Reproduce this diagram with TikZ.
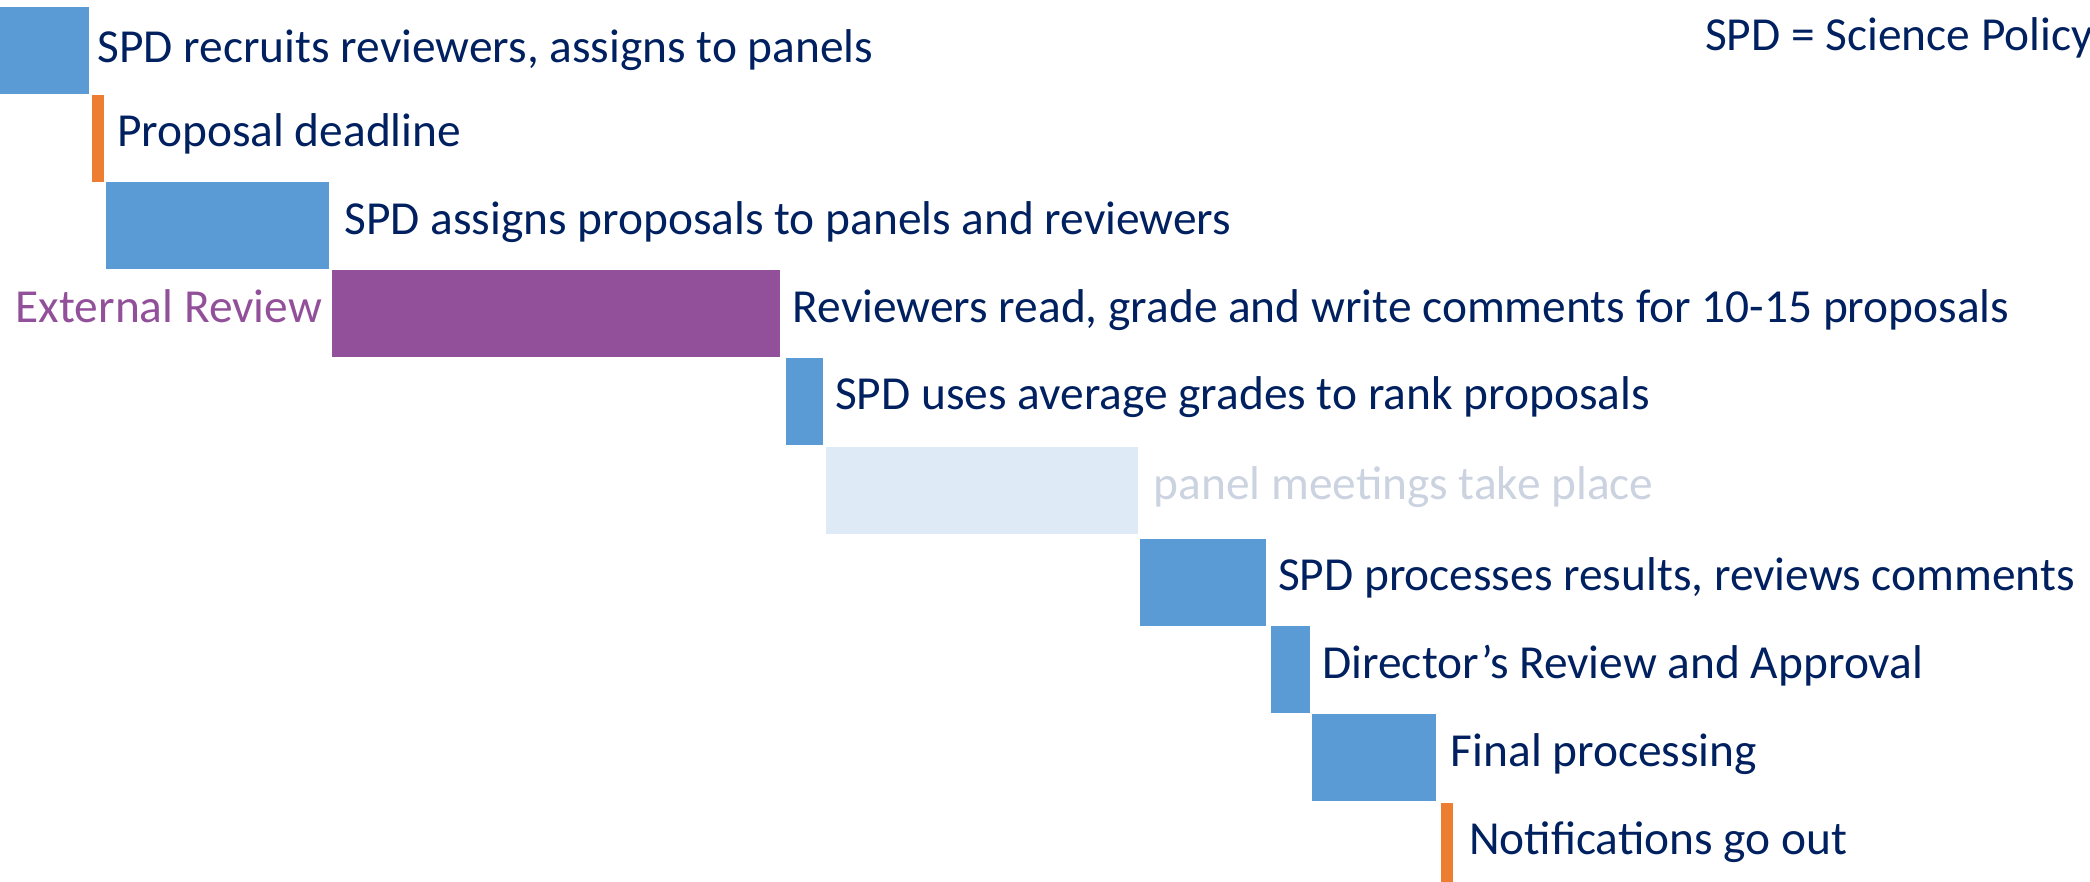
\documentclass[tikz,border=0pt]{standalone}
\usepackage{fontspec}
\setmainfont{Carlito}
\usepackage{tikz}
\usetikzlibrary{positioning}
\definecolor{taskblue}{RGB}{91, 155, 213}
\definecolor{deadline}{RGB}{237, 125, 49}
\definecolor{review}{RGB}{146, 80, 154}
\definecolor{meeting}{RGB}{222, 235, 247}
\definecolor{navy}{RGB}{0, 32, 96}
\definecolor{faded}{RGB}{204, 211, 224}
\tikzstyle{task} = [rectangle, fill=taskblue, inner sep=0pt, minimum height=87pt]
\tikzstyle{milestone} = [task, fill=deadline]
\tikzstyle{tlabel} = [inner sep=0pt, text=navy, text height=0.75em, text depth=0.25em, yshift=-6pt, font=\fontsize{47.4}{57}\selectfont]

\begin{document}
\begin{tikzpicture}[auto]

\useasboundingbox (0pt,0pt) rectangle (2090pt,-881pt);

% bars =============================

\node[task, minimum width=89pt, anchor=north west] (rec) at (0pt,-7pt) {};
\node[milestone, minimum width=12pt, below right=0pt and 2pt of rec] (dead) {};
\node[task, minimum width=223pt, below right=0pt and 2pt of dead] (assign) {};
\node[task, fill=review, minimum width=448pt, below right=1pt and 3pt of assign] (ext) {};
\node[task, minimum width=37pt, below right=0pt and 5pt of ext] (rank) {};
\node[task, fill=meeting, minimum width=312pt, below right=2pt and 3pt of rank] (panel) {};
\node[task, minimum width=126pt, below right=4pt and 1pt of panel] (proc) {};
\node[task, minimum width=39pt, below right=0pt and 5pt of proc] (dir) {};
\node[task, minimum width=124pt, below right=1pt and 2pt of dir] (final) {};
\node[milestone, minimum width=12pt, below right=1pt and 4pt of final] (notif) {};

% labels
\node[tlabel, right=8pt of rec, yshift=-3pt] (recl) {SPD recruits reviewers, assigns to panels};
\node[tlabel, right=13pt of dead] (deadl) {Proposal deadline};
\node[tlabel, right=15pt of assign] (assignl) {SPD assigns proposals to panels and reviewers};
\node[tlabel, right=12pt of ext] (extl) {Reviewers read, grade and write comments for 10-15 proposals};
\node[tlabel, text=review, left=10pt of ext] (extname) {External Review};
\node[tlabel, right=12pt of rank] (rankl) {SPD uses average grades to rank proposals};
\node[tlabel, text=faded, right=15pt of panel] (panell) {panel meetings take place};
\node[tlabel, right=12pt of proc] (procl) {SPD processes results, reviews comments};
\node[tlabel, right=12pt of dir] (dirl) {Director’s Review and Approval};
\node[tlabel, right=14pt of final] (finall) {Final processing};
\node[tlabel, right=16pt of notif] (notifl) {Notifications go out};

% legend
\node[tlabel, anchor=west] (legend) at (1705pt,-42pt) {SPD = Science Policy};

\end{tikzpicture}
\end{document}
